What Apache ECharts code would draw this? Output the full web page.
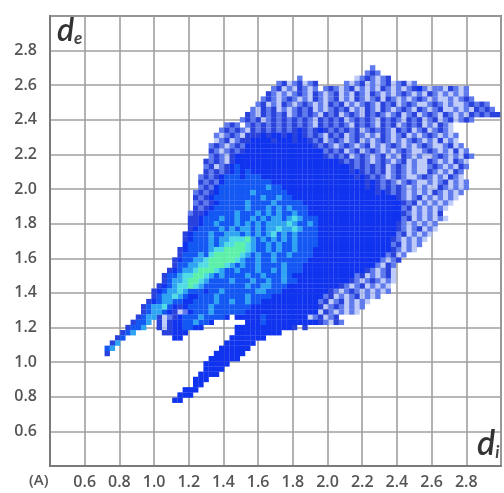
<!DOCTYPE html>
<html><head><meta charset="utf-8"><style>html,body{margin:0;padding:0;background:#fff}#c{width:504px;height:493px;filter:blur(0.7px)}</style>
<script src="https://cdn.jsdelivr.net/npm/echarts@6/dist/echarts.min.js"></script></head><body><div id="c"></div>
<script>
var tickLabels=["0.6","0.8","1.0","1.2","1.4","1.6","1.8","2.0","2.2","2.4","2.6","2.8"];
var unitLabel="(A)";
var diFirst=0.70, deFirst=2.70, binStep=0.03;
var levelNames=["-","+","#","B","m","c","t","g"];
var levelColors=["rgba(170,186,246,0.75)","#5f7aec","#2a42dc","#0f33ee","#1458f4","#2fa4f2","#4fdce4","#5cf0a8"];
var cellSize=5.4;
var rowOffsets=[52,51,38,34,33,32,31,30,29,28,27,24,23,22,22,21,21,21,20,20,20,19,19,19,18,18,18,18,17,17,17,17,16,16,16,15,15,14,14,13,12,12,11,10,10,9,8,8,7,6,5,4,3,2,1,1,21,20,20,19,18,18,16,15,14];
var rowCells=[
"+","+#+","+..........-+#+-+#","+#-+#-+#.....+-+#-+-+#-+#-+",
"+#-+-#+-+.+#+-+#-+-+-#+-+-+#B+-++-#+-+",
"#+-+-+#+-#+-+#-+-#+-#+-+-+#+-+-#+-+-+-+",
"+#+-+#+-+-#+-+#-+-#+-+#-#+-+-+#+-+--+-+#+",
"+#-+-#+-+#+-+-#+#-+-+#+-#+#-+#+--+#+-+--+#+#+",
"+-#+#-+-+#+#-+-+#+#-+-#+-#+-+#+-#+-+#--+-+-#+#+",
"#+-#+#+#-+#+#+-#+#-+#+-#+#+-+#-+#-+#+-#+-+-#+#+##",
"+#+#-+#+#+#+#+-#+#+#-+#+#+-#+#+-#+#-+#-+#-+#+",
"+#+.+#+#+#+#+#+#+-#+#+#+-#+#+-#+#-+#+#-+-#+-",
"+#+#+-#+#+#+#+#B#+#B#+#+#+#-+#+#+-#+#-+#-+#+-",
"+-+#+-###B#BB#B#B#+#+-#+#-+#+-+-#+-+#-+-+#+-+-+",
"-+#-+##BBBB#BBB#BB#+#-+#+-+#-+-+#+-+-+#+-+-#-+-",
"+#+-+#+BBBBBBBBBBBBB#+#+-+#+-+#-+-+#+-+-+#+--+#-+",
"#+-+#+#BBBBBBBBBBBBBBB+#+#-+#-+#+-+-+#+--+#+-+-#-+",
"+#+-#BBBBBBBBBBBBBBBBB#+#+#-+#+-+#-+-#+-+--+#+-+-#+",
"#+#+-#BBBBBBBBBBBBBBBBBBBB#+#+#+-+#+-+#-+--#+-+-#+-",
"+#-+#BmBBBBBBBBBBBBBBBBBBBBB#+#+#+#-+#+-+--+#+-+-#+",
"#+#+#BmBmBBBBBBBBBBBBBBBBBBB#B#+#+#-+#+-+--#+-+-#+",
"+#+#BmmmBmmmBBBBBBBBBBBBBBBBBB#B#+#+-+#+--+#+-+-#+-",
"#+#+BmmmmmmmmmBBBBBBBBBBBBBBBBBB#B#+#+-+#+--+-+#-+-+",
"+#+BmmmmmmmmmcmmBBBBBBBBBBBBBBBB#B#+#+#+-+-+--#+-+-+",
"+#+#BmmmmmmcmmmmmmBBBBBBBBBBBBBBBBB#B#+#+-+-+-#+-+-+",
"#+#BmmmmmmmmmcmmcmmBBBBBBBBBBBBBBBBBBBB#+-+#-+-+-+-",
"+#+#BmmmmmcmmmmcmmmmmBBBBBBBBBBBBBBBBBBB#+#-+-+-+-",
"#+#BmmmmmmcmmmcmcmcmmmBBBBBBBBBBBBBBBBBB+#-+-+-+-",
"+##BmmmmmcmmmcmcmcmmcmmBBBBBBBBBBBBBBBBBB#+-+-+-#",
"##BmmmcmmcmmcmcmccmctcmmmBBBBBBBBBBBBBBBB+#-+-+-+-",
"##BmmcmmmcmcmcmcccctcmmcmBBBBBBBBBBBBBBB#+-+-+-+",
"#BmmmmcmcmccmcmcctcctcmmmBBBBBBBBBBBBBBB#+-+#-+-",
"#BmmmcmmcccmcmcmctmcmcmmmmBBBBBBBBBBBBBBB+#-+-+-",
"#BmmmcmcctttgcmcmcmcmcmmmmBBBBBBBBBBBBBB#+-+-+-",
"BmmmmcmcttggtcmmcmcmmcmmmmBBBBBBBBBBBBBB+#-+-+",
"#BmmmmcttggggtcmmcmcmmcmmmBBBBBBBBBBBBBBB#+-+-",
"#mmmcmtgggggtcmcmmcmmcmmmmBBBBBBBBBBBBBB+#-+",
"#BmmcctgggggtcmmcmmcmmmmmmBBBBBBBBBBBBBB+-+#",
"#mmccttgggtcmcmmcmmmmcmmmBBBBBBBBBBBBBB+-#+",
"#BmcctgggtcmmcmmmcmmcmcmmmBBBBBBBBBBBB#+-+#-",
"#mmcttggtcmcmmmmcmmcmmmcmBBBBBBBBBBBB+#-+-+#-",
"#mcctggtcmmmmcmmmcmmcmmcmmBBBBBBBBBB#+-+#+-+-",
"#BmcttgtcmmmmmmmmcmmccmmmBBBBBBBBBB#+-+#-+-+-",
"#BmcctcmmmBmmcmmmmmmccmmmBBBBBBBBB#+-+#+-+-+-+",
"#mcctcmBBmmmcmmmmmcmmmmBBBBBBBBBB+#-+-+#-+-+",
"#BmccmmBBmmmmcmmcmmcmmBBBBBBBBBBB+#-+#-+-+-",
"#mcctmB#BmmmmcmmmmmmmBBBBBBBBBBBBB#-+#+-+-+",
"#mccmB#-+BmmmcmmmmmmBBBBBBBBBBBBBB-#+-+-+-",
"#mcc#-+#BmmmcmmmmB.BBBBBmBBBBBBBB-+#-+#",
"#mmc.#-#BBmmcmmB......BBBmBBBBBBBBBB#+-#+",
"#mmc..#-#BBmmBB......BBBBBBBBBBB#.#",
"#mc.....##BBB.........BBBBBBBBB",
"#m.........BB.........BBBBBBB",
"#c....................BBBBBB",
"mc....................BBBBBB",
"#....................BBBBBB",
"BBBBBB","BBBBB","BBBB","BBBB","BBB","BB","BBB","BBB","BB"
];
var seriesByLevel=levelNames.map(function(){return [];});
rowCells.forEach(function(cells,r){
  for(var i=0;i<cells.length;i++){
    var lv=levelNames.indexOf(cells[i]);
    if(lv>=0) seriesByLevel[lv].push([diFirst+binStep*(rowOffsets[r]+i), deFirst-binStep*r]);
  }
});
var textCol="#555", font='"Open Sans"';
function fmt(v){var s=v.toFixed(1);return tickLabels.indexOf(s)>=0?s:"";}
function axis(extra){return Object.assign({type:"value",min:0.4,max:3.0,interval:0.2,
  axisLine:{show:true,lineStyle:{color:"#7a7a7a",width:2}},axisTick:{show:false},
  splitLine:{show:true,lineStyle:{color:"#9f9f9f",width:1.6}}},extra);}
var chart=echarts.init(document.getElementById("c"),null,{renderer:"canvas"});
chart.setOption({animation:false,backgroundColor:"#fff",
  grid:{left:50,right:2.5,top:16,bottom:27,containLabel:false,show:true,backgroundColor:"transparent",borderColor:"#7a7a7a",borderWidth:2},
  xAxis:axis({axisLabel:{formatter:fmt,color:textCol,fontFamily:font,fontSize:16,fontWeight:600,margin:8}}),
  yAxis:axis({axisLabel:{formatter:fmt,color:textCol,fontFamily:font,fontSize:16,fontWeight:600,margin:13}}),
  series:levelNames.map(function(n,i){return {name:n,type:"scatter",symbol:"rect",symbolSize:cellSize,silent:true,z:2+i,
    itemStyle:{color:levelColors[i],opacity:1},data:seriesByLevel[i]};}),
  graphic:[
   {type:"text",left:29,top:473,style:{text:unitLabel,fill:textCol,fontSize:15,fontWeight:600,fontFamily:"Open Sans"}},
   {type:"text",left:57,top:15,z:50,style:{text:"{a|d}{b|e}",rich:{a:{fill:"#333",font:'italic 600 32px Lato'},b:{fill:"#444",font:'italic 700 17px Lato',verticalAlign:"bottom",padding:[10,0,0,0]}}}},
   {type:"text",left:477,top:427,z:50,style:{text:"{a|d}{b|i}",rich:{a:{fill:"#333",font:'italic 600 34px Lato'},b:{fill:"#444",font:'italic 700 17px Lato',verticalAlign:"bottom",padding:[10,0,0,0]}}}}
  ]
});
</script></body></html>
